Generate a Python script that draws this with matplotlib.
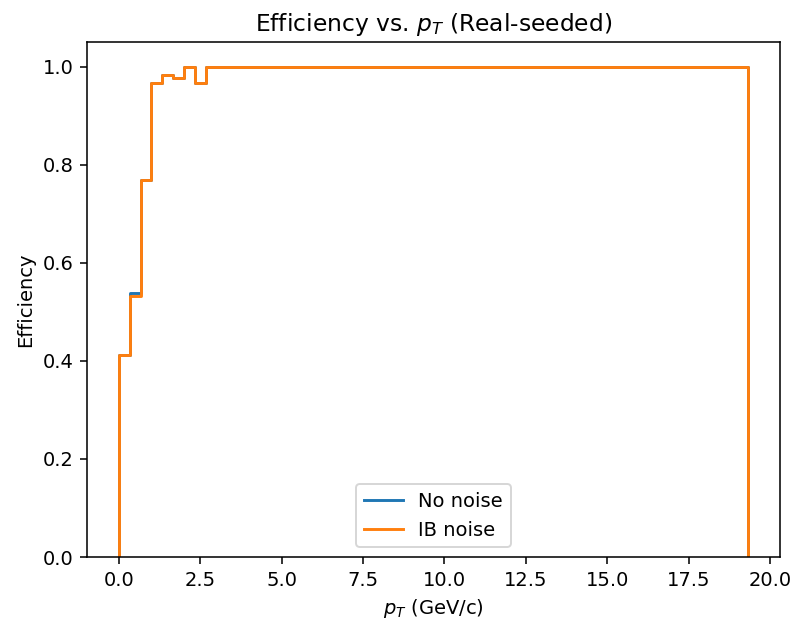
import matplotlib
matplotlib.use('Agg')
import matplotlib.pyplot as plt
import numpy as np

# pT bins: width 1/3 GeV/c from 0 to 19.33
bin_width = 1 / 3
n_bins = 58
eff_no_noise = [0.413, 0.539, 0.768, 0.966, 0.983, 0.978, 1.0, 0.966] + [1.0] * 50
eff_ib_noise = [0.413, 0.532, 0.768, 0.966, 0.983, 0.978, 1.0, 0.966] + [1.0] * 50
series_labels = ['No noise', 'IB noise']


def outline(vals):
    edges = np.arange(n_bins + 1) * bin_width
    x = np.repeat(edges, 2)
    y = np.concatenate([[0], np.repeat(vals, 2), [0]])
    return x, y


DPI = 140
fig, ax = plt.subplots(figsize=(794 / DPI, 621 / DPI), dpi=DPI)
for vals, lab in zip([eff_no_noise, eff_ib_noise], series_labels):
    ax.plot(*outline(vals), label=lab, lw=1.5)

ax.set_ylim(bottom=0)
ax.set_xlabel('$p_T$ (GeV/c)')
ax.set_ylabel('Efficiency')
ax.set_title('Efficiency vs. $p_T$ (Real-seeded)')
ax.legend(loc='lower center')
fig.subplots_adjust(left=0.11, right=0.982, top=0.932, bottom=0.103)
fig.savefig('out.png', dpi=DPI)
